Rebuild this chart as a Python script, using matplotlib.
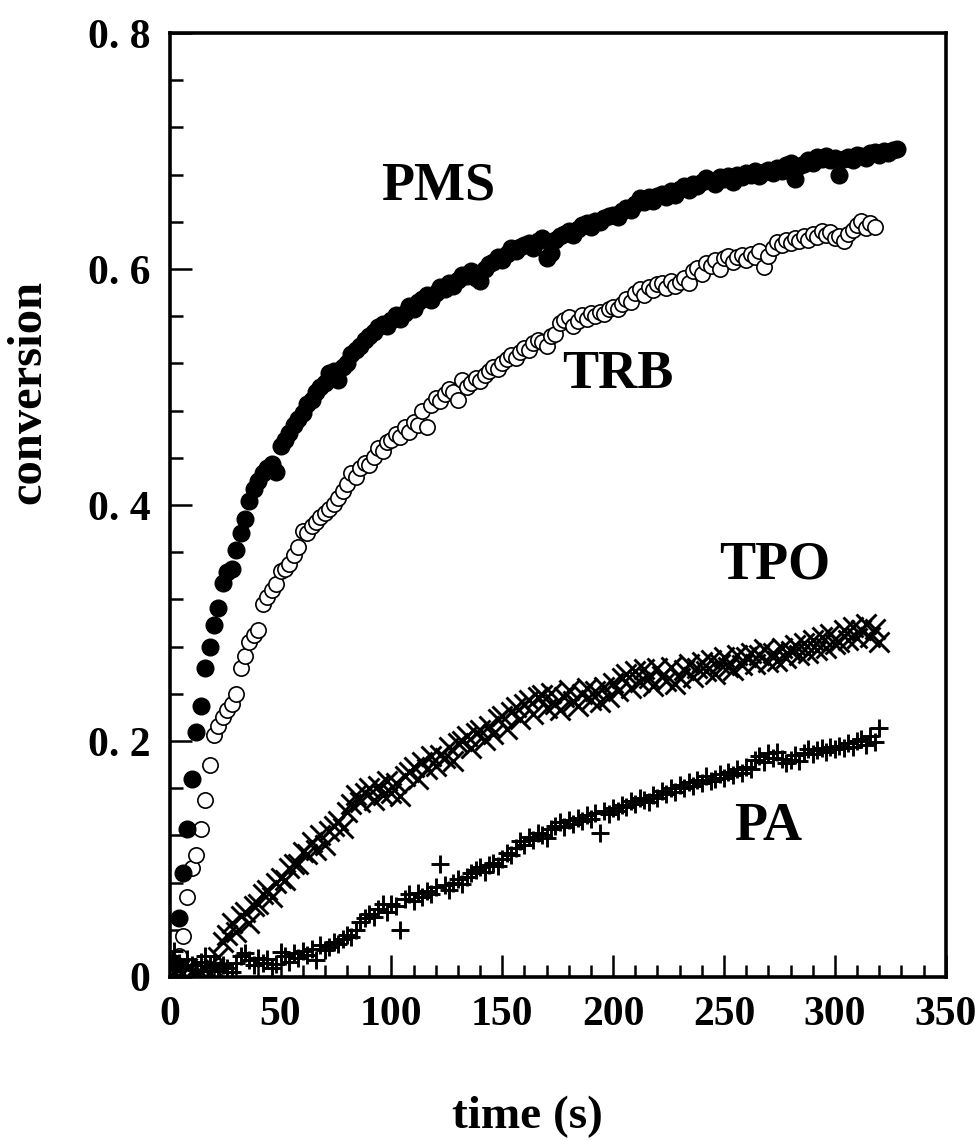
import numpy as np
import matplotlib
matplotlib.use("Agg")
import matplotlib.pyplot as plt
from matplotlib.ticker import MultipleLocator, FixedLocator, FixedFormatter

# ---------------- data ----------------
t_pms = np.arange(2, 330, 2)
pms = [0.012, 0.050, 0.088, 0.125, 0.168, 0.208, 0.230, 0.262, 0.280, 0.298,
       0.313, 0.334, 0.343, 0.346, 0.362, 0.376, 0.388, 0.403, 0.414, 0.420,
       0.427, 0.431, 0.435, 0.428, 0.450, 0.455, 0.461, 0.468, 0.473, 0.478,
       0.486, 0.489, 0.496, 0.500, 0.503, 0.512, 0.514, 0.506, 0.517, 0.520,
       0.528, 0.531, 0.535, 0.540, 0.543, 0.547, 0.551, 0.553, 0.552, 0.557,
       0.561, 0.558, 0.563, 0.569, 0.566, 0.572, 0.575, 0.578, 0.574, 0.580,
       0.585, 0.583, 0.588, 0.586, 0.591, 0.595, 0.594, 0.598, 0.592, 0.590,
       0.600, 0.604, 0.606, 0.610, 0.608, 0.613, 0.618, 0.615, 0.619, 0.620,
       0.622, 0.618, 0.624, 0.626, 0.609, 0.614, 0.625, 0.628, 0.630, 0.632,
       0.629, 0.634, 0.637, 0.639, 0.636, 0.641, 0.640, 0.643, 0.645, 0.646,
       0.644, 0.649, 0.652, 0.650, 0.655, 0.660, 0.657, 0.661, 0.658, 0.662,
       0.664, 0.661, 0.666, 0.663, 0.668, 0.670, 0.667, 0.672, 0.670, 0.674,
       0.677, 0.675, 0.672, 0.678, 0.676, 0.679, 0.674, 0.680, 0.678, 0.681,
       0.680, 0.683, 0.679, 0.682, 0.684, 0.681, 0.686, 0.683, 0.688, 0.690,
       0.676, 0.687, 0.689, 0.692, 0.690, 0.695, 0.693, 0.696, 0.692, 0.694,
       0.680, 0.693, 0.695, 0.692, 0.697, 0.696, 0.694, 0.698, 0.699, 0.697,
       0.700, 0.698, 0.701, 0.702]

t_trb = np.arange(2, 320, 2)
trb = [0.008, 0.018, 0.035, 0.068, 0.092, 0.103, 0.125, 0.150, 0.180, 0.205,
       0.213, 0.220, 0.226, 0.231, 0.240, 0.262, 0.272, 0.284, 0.290, 0.294,
       0.316, 0.322, 0.328, 0.333, 0.344, 0.346, 0.350, 0.358, 0.364, 0.378,
       0.376, 0.382, 0.386, 0.390, 0.393, 0.397, 0.401, 0.406, 0.412, 0.418,
       0.427, 0.424, 0.431, 0.436, 0.434, 0.441, 0.448, 0.446, 0.453, 0.455,
       0.460, 0.458, 0.466, 0.462, 0.470, 0.468, 0.480, 0.466, 0.485, 0.491,
       0.488, 0.494, 0.498, 0.496, 0.489, 0.506, 0.500, 0.503, 0.508, 0.505,
       0.510, 0.514, 0.517, 0.515, 0.520, 0.524, 0.527, 0.525, 0.530, 0.533,
       0.531, 0.537, 0.540, 0.538, 0.535, 0.543, 0.545, 0.554, 0.557, 0.559,
       0.552, 0.556, 0.561, 0.558, 0.563, 0.560, 0.564, 0.562, 0.566, 0.568,
       0.566, 0.570, 0.575, 0.572, 0.580, 0.583, 0.578, 0.585, 0.582, 0.587,
       0.588, 0.584, 0.590, 0.586, 0.589, 0.592, 0.588, 0.598, 0.601, 0.596,
       0.605, 0.603, 0.608, 0.600, 0.609, 0.611, 0.606, 0.610, 0.612, 0.608,
       0.613, 0.610, 0.615, 0.602, 0.611, 0.618, 0.623, 0.620, 0.625, 0.622,
       0.626, 0.624, 0.628, 0.625, 0.630, 0.627, 0.632, 0.629, 0.631, 0.626,
       0.628, 0.624, 0.630, 0.633, 0.637, 0.641, 0.635, 0.639, 0.636]

t_tpo = np.arange(2, 322, 2)
tpo = [0.004, 0.006, 0.003, 0.008, 0.005, 0.002, 0.004, 0.006, 0.003, 0.008,
       0.017, 0.030, 0.036, 0.046, 0.038, 0.052, 0.055, 0.046, 0.060, 0.062,
       0.070, 0.074, 0.068, 0.080, 0.084, 0.082, 0.092, 0.096, 0.096, 0.106,
       0.104, 0.114, 0.108, 0.120, 0.112, 0.124, 0.128, 0.132, 0.126, 0.140,
       0.147, 0.154, 0.148, 0.156, 0.160, 0.150, 0.162, 0.154, 0.166, 0.156,
       0.164, 0.153, 0.170, 0.174, 0.178, 0.168, 0.182, 0.176, 0.187, 0.179,
       0.188, 0.186, 0.195, 0.183, 0.198, 0.200, 0.204, 0.194, 0.207, 0.209,
       0.201, 0.213, 0.206, 0.219, 0.221, 0.210, 0.225, 0.229, 0.219, 0.231,
       0.235, 0.223, 0.237, 0.239, 0.228, 0.241, 0.231, 0.226, 0.237, 0.243,
       0.234, 0.230, 0.240, 0.245, 0.235, 0.242, 0.233, 0.246, 0.237, 0.249,
       0.242, 0.253, 0.257, 0.245, 0.259, 0.250, 0.261, 0.253, 0.247, 0.262,
       0.255, 0.251, 0.263, 0.248, 0.253, 0.260, 0.265, 0.254, 0.262, 0.267,
       0.259, 0.269, 0.257, 0.265, 0.271, 0.263, 0.260, 0.273, 0.264, 0.271,
       0.275, 0.265, 0.273, 0.278, 0.267, 0.275, 0.268, 0.279, 0.270, 0.276,
       0.281, 0.273, 0.283, 0.275, 0.286, 0.277, 0.288, 0.279, 0.291, 0.282,
       0.284, 0.294, 0.286, 0.297, 0.287, 0.294, 0.299, 0.288, 0.295, 0.284]

t_pa = np.arange(2, 322, 2)
pa = [0.022, 0.012, 0.008, 0.015, 0.010, 0.006, 0.013, 0.018, 0.009, 0.012,
      0.005, 0.010, 0.008, 0.004, 0.012, 0.018, 0.020, 0.014, 0.010, 0.016,
      0.012, 0.015, 0.008, 0.011, 0.021, 0.018, 0.013, 0.020, 0.016, 0.022,
      0.019, 0.024, 0.014, 0.027, 0.023, 0.025, 0.030, 0.028, 0.032, 0.036,
      0.034, 0.040, 0.047, 0.050, 0.053, 0.051, 0.058, 0.062, 0.055, 0.062,
      0.060, 0.040, 0.066, 0.070, 0.064, 0.071, 0.068, 0.073, 0.070, 0.076,
      0.096, 0.078, 0.074, 0.080, 0.083, 0.079, 0.085, 0.088, 0.091, 0.093,
      0.089, 0.095, 0.097, 0.094, 0.100, 0.105, 0.103, 0.109, 0.115, 0.112,
      0.119, 0.116, 0.122, 0.120, 0.118, 0.125, 0.128, 0.131, 0.127, 0.133,
      0.130, 0.135, 0.132, 0.137, 0.134, 0.139, 0.122, 0.141, 0.138, 0.143,
      0.141, 0.146, 0.144, 0.149, 0.147, 0.152, 0.150, 0.148, 0.154, 0.152,
      0.158, 0.155, 0.160, 0.157, 0.163, 0.160, 0.165, 0.162, 0.167, 0.164,
      0.170, 0.166, 0.168, 0.172, 0.169, 0.174, 0.171, 0.176, 0.173, 0.178,
      0.176, 0.184, 0.187, 0.182, 0.190, 0.186, 0.191, 0.185, 0.181, 0.184,
      0.188, 0.183, 0.190, 0.193, 0.189, 0.192, 0.194, 0.191, 0.195, 0.193,
      0.196, 0.194, 0.198, 0.195, 0.200, 0.202, 0.197, 0.204, 0.199, 0.211]

series_labels = ["PMS", "TRB", "TPO", "PA"]
label_pos = [(121, 0.670), (202, 0.510), (273, 0.349), (270, 0.1275)]

x_ticks = [0, 50, 100, 150, 200, 250, 300, 350]
x_ticklabels = ["0", "50", "100", "150", "200", "250", "300", "350"]
y_ticks = [0, 0.2, 0.4, 0.6, 0.8]
y_ticklabels = ["0", "0. 2", "0. 4", "0. 6", "0. 8"]

# ---------------- figure ----------------
SERIF = ["Liberation Serif", "DejaVu Serif"]
plt.rcParams["font.family"] = SERIF

fig = plt.figure(figsize=(9.75, 11.4), dpi=100)
ax = fig.add_axes([0.174, 0.143, 0.796, 0.828])

ax.plot(t_trb, trb, linestyle="none", marker="o", markersize=11,
        markerfacecolor="white", markeredgecolor="black", markeredgewidth=1.2)
ax.plot(t_pms, pms, linestyle="none", marker="o", markersize=12,
        markerfacecolor="black", markeredgecolor="black")
ax.plot(t_tpo, tpo, linestyle="none", marker="x", markersize=15,
        markeredgewidth=2.1, color="black")
ax.plot(t_pa, pa, linestyle="none", marker="+", markersize=13.5,
        markeredgewidth=2.1, color="black")

for txt, (tx, ty) in zip(series_labels, label_pos):
    ax.text(tx, ty, txt, fontsize=39, fontweight="bold", ha="center",
            va="center", family=SERIF)

ax.set_xlim(0, 350)
ax.set_ylim(0, 0.8)

ax.xaxis.set_major_locator(FixedLocator(x_ticks))
ax.xaxis.set_major_formatter(FixedFormatter(x_ticklabels))
ax.xaxis.set_minor_locator(MultipleLocator(10))
ax.yaxis.set_major_locator(FixedLocator(y_ticks))
ax.yaxis.set_major_formatter(FixedFormatter(y_ticklabels))
ax.yaxis.set_minor_locator(MultipleLocator(0.04))

ax.tick_params(axis="both", which="major", direction="in", length=16,
               width=1.8, labelsize=30, top=False, right=False)
ax.tick_params(axis="both", which="minor", direction="in", length=9,
               width=1.8, top=False, right=False)
ax.tick_params(axis="x", which="major", pad=14)
ax.tick_params(axis="y", which="major", pad=14)
for lab in ax.get_xticklabels() + ax.get_yticklabels():
    lab.set_fontweight("bold")
ax.get_xticklabels()[-1].set_horizontalalignment("center")

for sp in ax.spines.values():
    sp.set_linewidth(2.6)

fig.text(0.029, 1 - 392 / 1140, "conversion", rotation=90, fontsize=35,
         fontweight="bold", ha="center", va="center", family=SERIF)
fig.text(527 / 975, 1 - 1117 / 1140, "time (s)", fontsize=34,
         fontweight="bold", ha="center", va="center", family=SERIF)

fig.savefig("out.png", dpi=100, facecolor="white")
